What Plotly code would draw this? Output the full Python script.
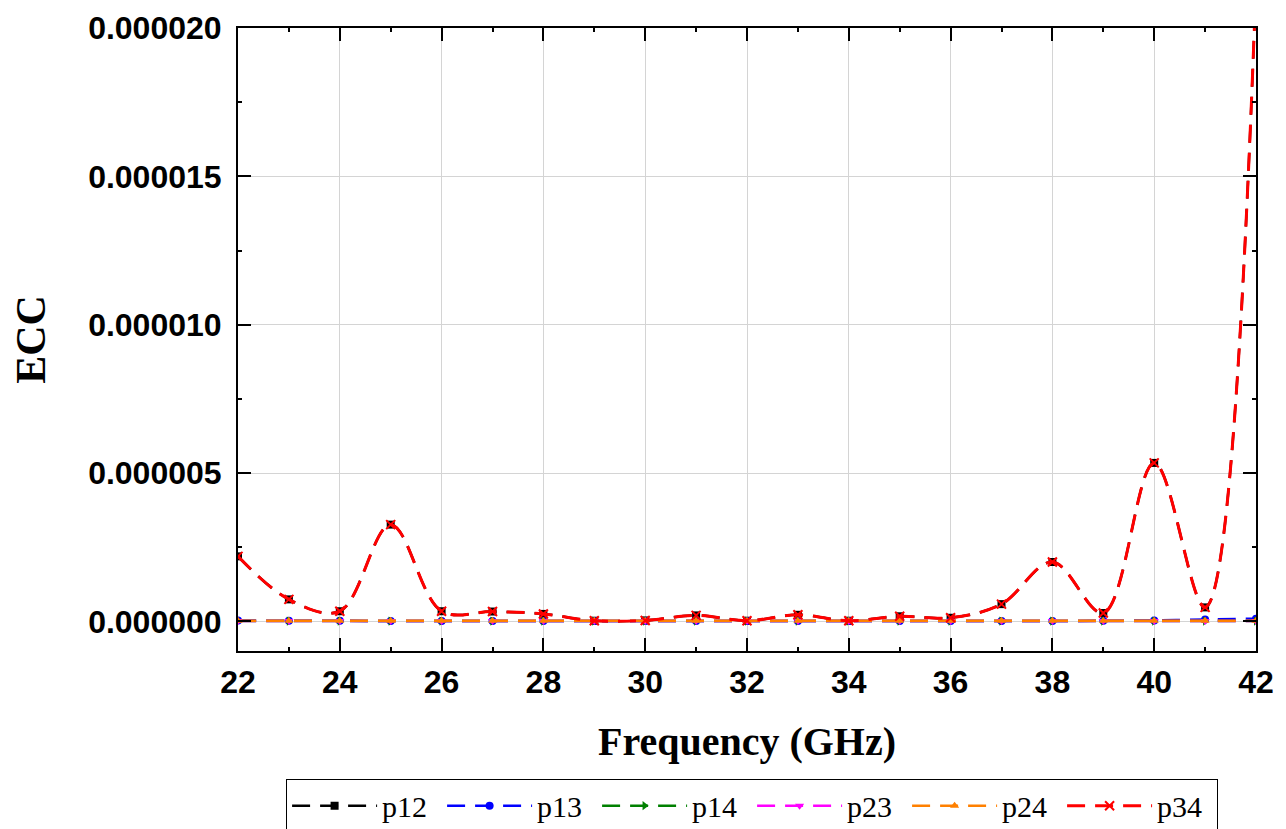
import plotly.graph_objects as go

freq = [22, 23, 24, 25, 26, 27, 28, 29, 30, 31, 32, 33, 34, 35, 36, 37, 38, 39, 40, 41, 42]
p12 = [2.19e-6, 0.74e-6, 0.34e-6, 3.26e-6, 0.34e-6, 0.33e-6, 0.25e-6, 0.02e-6, 0.03e-6, 0.20e-6,
       0.02e-6, 0.22e-6, 0.02e-6, 0.17e-6, 0.12e-6, 0.58e-6, 2.00e-6, 0.28e-6, 5.34e-6, 0.47e-6, 21.5e-6]
p13 = [0.03e-6, 0.02e-6, 0.02e-6, 0.01e-6, 0.01e-6, 0.01e-6, 0.01e-6, 0.01e-6, 0.01e-6, 0.01e-6,
       0.01e-6, 0.01e-6, 0.01e-6, 0.01e-6, 0.01e-6, 0.01e-6, 0.01e-6, 0.02e-6, 0.03e-6, 0.06e-6, 0.09e-6]
p14 = [0.01e-6, 0.01e-6, 0.01e-6, 0.01e-6, 0.01e-6, 0.01e-6, 0.01e-6, 0.01e-6, 0.01e-6, 0.01e-6,
       0.01e-6, 0.01e-6, 0.01e-6, 0.01e-6, 0.01e-6, 0.01e-6, 0.01e-6, 0.01e-6, 0.01e-6, 0.01e-6, 0.01e-6]
p23 = [0.01e-6, 0.01e-6, 0.01e-6, 0.01e-6, 0.01e-6, 0.01e-6, 0.01e-6, 0.01e-6, 0.01e-6, 0.01e-6,
       0.01e-6, 0.01e-6, 0.01e-6, 0.01e-6, 0.01e-6, 0.01e-6, 0.01e-6, 0.01e-6, 0.01e-6, 0.01e-6, 0.01e-6]
p24 = [0.02e-6, 0.02e-6, 0.02e-6, 0.02e-6, 0.02e-6, 0.02e-6, 0.02e-6, 0.02e-6, 0.02e-6, 0.02e-6,
       0.02e-6, 0.02e-6, 0.02e-6, 0.02e-6, 0.02e-6, 0.02e-6, 0.02e-6, 0.02e-6, 0.02e-6, 0.02e-6, 0.02e-6]
p34 = list(p12)

series_names = ["p12", "p13", "p14", "p23", "p24", "p34"]
series_values = [p12, p13, p14, p23, p24, p34]
colors = ["#000000", "#0000ff", "#008000", "#ff00ff", "#ff8000", "#ff0000"]
symbols = ["square", "circle", "triangle-right", "triangle-down", "triangle-up", "x-thin"]
widths = [2.5, 2.5, 2.5, 2.5, 2.5, 3]

fig = go.Figure()
for name, vals, c, s, w in zip(series_names, series_values, colors, symbols, widths):
    marker = dict(symbol=s, size=8, color=c)
    if s == "x-thin":
        marker = dict(symbol=s, size=9, color=c, line=dict(color=c, width=2))
    fig.add_trace(go.Scatter(
        x=freq, y=vals, name=name, mode="lines+markers",
        line=dict(color=c, width=w, dash="18px,10px", shape="spline", smoothing=1.0),
        marker=marker,
    ))

axis_common = dict(
    showline=True, linecolor="black", linewidth=2, mirror="ticks",
    ticks="inside", ticklen=13, tickwidth=2, tickcolor="black",
    showgrid=True, gridcolor="#d4d4d4", gridwidth=1, zeroline=False,
    tickfont=dict(family="Liberation Sans", size=32, color="black", weight="bold"),
)

fig.update_xaxes(
    **axis_common,
    ticklabelstandoff=2,
    range=[22, 42], tick0=22, dtick=2,
    minor=dict(ticks="inside", ticklen=4, tickwidth=2, tickcolor="black", dtick=1, showgrid=False),
    title=dict(text="Frequency (GHz)", standoff=28,
               font=dict(family="Liberation Serif", size=40, color="black", weight="bold")),
)
fig.update_yaxes(
    **axis_common,
    ticklabelstandoff=8,
    range=[-1e-6, 2e-5], tick0=0, dtick=5e-6, tickformat=".6f",
    minor=dict(ticks="inside", ticklen=4, tickwidth=2, tickcolor="black", dtick=2.5e-6, showgrid=False),
    title=dict(text="ECC", standoff=30,
               font=dict(family="Liberation Serif", size=42, color="black", weight="bold")),
)

fig.update_layout(
    width=1278, height=821,
    margin=dict(l=230, r=30, t=20, b=178, autoexpand=False),
    plot_bgcolor="white", paper_bgcolor="white",
    showlegend=True,
    legend=dict(
        orientation="h", x=0.505, xanchor="center", y=-0.205, yanchor="top",
        font=dict(family="Liberation Serif", size=30, color="black"),
        bordercolor="black", borderwidth=1, bgcolor="white",
        entrywidth=55, itemwidth=85,
    ),
)

fig.write_html("out.html")
